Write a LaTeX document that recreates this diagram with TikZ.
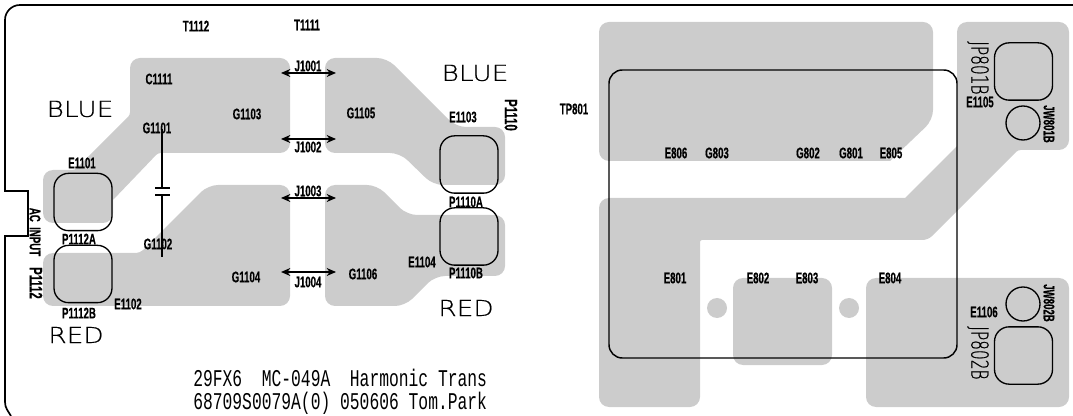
\documentclass[tikz,border=0pt]{standalone}
\usepackage{fontspec}
\usetikzlibrary{arrows.meta}
\setmainfont{Liberation Sans}
\newfontfamily\reffont[FakeStretch=0.63,FakeBold=0.3]{Liberation Sans}
\newfontfamily\markfont[FakeStretch=1.2,FakeBold=0.6]{DejaVu Sans ExtraLight}
\newfontfamily\jpfont[FakeStretch=0.66,FakeBold=0.6]{DejaVu Sans ExtraLight}
\newfontfamily\notefont[FakeStretch=0.68]{Liberation Mono}

\begin{document}
\begin{tikzpicture}[x=0.75pt,y=-0.75pt,>=stealth]
	
	\tikzset{
		pour/.style={fill=black!20,draw=none,rounded corners=7.5pt},
		outline/.style={line width=1.25pt},
		padbox/.style={draw,line width=1pt,rounded corners=11pt,inner sep=0pt,minimum width=43.5pt,minimum height=43pt},
		jwring/.style={draw,circle,line width=1pt,inner sep=0pt,minimum size=25.5pt},
		hole/.style={circle,fill=black!20,inner sep=0pt,minimum size=15pt},
		tpbox/.style={draw,line width=1.1pt,rounded corners=10pt,inner sep=0pt,minimum width=261pt,minimum height=216pt},
		jumper/.style={{Stealth[length=7pt,width=6pt]}-{Stealth[length=7pt,width=6pt]},line width=1pt},
		capwire/.style={line width=1pt},
		ref/.style={font=\reffont\bfseries\fontsize{11.5}{13}\selectfont,inner sep=0pt},
		netname/.style={font=\markfont\fontsize{16.5}{18}\selectfont,inner sep=0pt},
		jplabel/.style={font=\jpfont\fontsize{17.5}{19}\selectfont,inner sep=0pt,rotate=-90},
		note/.style={font=\notefont\fontsize{18}{20}\selectfont,inner sep=0pt},
	}
	
	% Macro: draw one ref label
	% Arguments: x, y, text (also used as node name)
	\newcommand{\RefAt}[3]{\node[ref] (#3) at (#1,#2) {#3};}
	
	\useasboundingbox (0,0) rectangle (1073,416);
	
	%========================================
	% Copper pours
	%========================================
	% Left blue
	\fill[pour] (130,58) -- (290,58) -- (290,153) [rounded corners=2pt] -- (158,153) [sharp corners] -- (113,200)
		[rounded corners=7.5pt] -- (113,223) -- (43,223) -- (43,170) [rounded corners=2pt] -- (75,170) -- (130,115)
		[rounded corners=7.5pt] -- cycle;
	% Left red
	\fill[pour] (43,253) [rounded corners=3pt] -- (140,253) [rounded corners=7.5pt] -- (208,185) -- (290,185) -- (290,306) -- (43,306) -- cycle;
	% Right blue
	\fill[pour] (325,58) -- (387,58) -- (456,127) -- (505,127) -- (505,185) -- (433,185)
		-- (400,153) -- (325,153) -- cycle;
	% Right red
	\fill[pour] (325,185) -- (377,185) -- (407,215) -- (505,215) -- (505,276) -- (435,276)
		-- (405,306) -- (325,306) -- cycle;
	% TP801 side
	\fill[pour] (599,22) -- (933,22) -- (933,120) [sharp corners] -- (890,161) [rounded corners=7.5pt] -- (599,161) -- cycle;
	\fill[pour] (599,198) [sharp corners] -- (905,198) -- (957,146) [rounded corners=7.5pt] -- (957,22) -- (1069,22) -- (1069,150)
		[rounded corners=2pt] -- (1018,150) [rounded corners=4pt] -- (928,240) [rounded corners=1.5pt] -- (700,240) [rounded corners=7.5pt] -- (700,407) -- (599,407) -- cycle;
	\fill[pour] (733,278) -- (832,278) -- (832,365) -- (733,365) -- cycle;
	\fill[pour] (866,278) -- (1069,278) -- (1069,407) -- (866,407) -- cycle;
	% Holes
	\node[hole] (H1) at (717,308) {};
	\node[hole] (H2) at (849,308) {};
	
	%========================================
	% Board edge
	%========================================
	\coordinate (edgeA) at (1073,5);
	\coordinate (edgeB) at (11,416);
	\draw[outline] (edgeA) -- (20,5) to[out=180,in=90] (5,20) -- (5,191) -- (28,191) -- (28,236)
		-- (5,236) -- (5,402) to[out=270,in=120] (edgeB);
	
	%========================================
	% Pads and frame
	%========================================
	\node[padbox] (P1112Apad) at (83,202) {};
	\node[padbox] (P1112Bpad) at (83,274) {};
	\node[padbox] (P1110Apad) at (469,164.5) {};
	\node[padbox] (P1110Bpad) at (469,236.5) {};
	\node[padbox] (JP801Bpad) at (1023.5,71.5) {};
	\node[padbox] (JP802Bpad) at (1023.5,355.5) {};
	\node[jwring] (JW801Bpad) at (1023,123) {};
	\node[jwring] (JW802Bpad) at (1023,304) {};
	\node[tpbox] (TPframe) at (783,214) {};
	
	%========================================
	% Capacitor
	%========================================
	\coordinate (capT) at (162,129);
	\coordinate (capU) at (162,188);
	\coordinate (capV) at (162,195);
	\coordinate (capB) at (162,257);
	\draw[capwire] (capT) -- (capU);
	\draw[capwire] (capV) -- (capB);
	\draw[capwire] (155,188) -- (170,188);
	\draw[capwire] (155,195) -- (170,195);
	
	%========================================
	% Jumpers
	%========================================
	\coordinate (JaL) at (281,73);  \coordinate (JaR) at (336,73);
	\coordinate (JbL) at (281,139); \coordinate (JbR) at (336,139);
	\coordinate (JcL) at (281,198); \coordinate (JcR) at (336,198);
	\coordinate (JdL) at (281,272); \coordinate (JdR) at (336,272);
	\draw[jumper] (JaL) -- (JaR);
	\draw[jumper] (JbL) -- (JbR);
	\draw[jumper] (JcL) -- (JcR);
	\draw[jumper] (JdL) -- (JdR);
	
	%========================================
	% Ref labels
	%========================================
	\RefAt{196}{26}{T1112}
	\RefAt{307}{25}{T1111}
	\RefAt{159}{79}{C1111}
	\RefAt{247}{114}{G1103}
	\RefAt{157}{128}{G1101}
	\RefAt{82}{163}{E1101}
	\RefAt{79}{239}{P1112A}
	\RefAt{158}{244}{G1102}
	\RefAt{246}{277}{G1104}
	\RefAt{128}{304}{E1102}
	\RefAt{79}{313}{P1112B}
	\RefAt{308}{66}{J1001}
	\RefAt{361}{113}{G1105}
	\RefAt{308}{147}{J1002}
	\RefAt{308}{191}{J1003}
	\RefAt{463}{117}{E1103}
	\RefAt{466}{202}{P1110A}
	\RefAt{422}{262}{E1104}
	\RefAt{466}{273}{P1110B}
	\RefAt{363}{274}{G1106}
	\RefAt{308}{282}{J1004}
	\RefAt{574}{109}{TP801}
	\RefAt{676}{153}{E806}
	\RefAt{717}{153}{G803}
	\RefAt{808}{153}{G802}
	\RefAt{851}{153}{G801}
	\RefAt{891}{153}{E805}
	\RefAt{980}{102}{E1105}
	\RefAt{675}{278}{E801}
	\RefAt{758}{278}{E802}
	\RefAt{807}{278}{E803}
	\RefAt{890}{278}{E804}
	\RefAt{984}{312}{E1106}
	
	% Rotated ref labels
	\node[ref,rotate=-90] (ACinput) at (35,232) {AC\hspace{2pt} INPUT};
	\node[ref,rotate=-90,font=\reffont\bfseries\fontsize{13.5}{15}\selectfont] (P1112) at (36,283) {P1112};
	\node[ref,rotate=-90,font=\reffont\bfseries\fontsize{13.5}{15}\selectfont] (P1110) at (511,115) {P1110};
	\node[ref,rotate=-90] (JW801B) at (1049,124) {JW801B};
	\node[ref,rotate=-90] (JW802B) at (1049,303) {JW802B};
	
	% Net names
	\node[netname] (blueL) at (80,109) {BLUE};
	\node[netname] (redL) at (76,335) {RED};
	\node[netname] (blueR) at (475,73) {BLUE};
	\node[netname] (redR) at (466,308) {RED};
	\node[jplabel] (JP801B) at (978,68) {JP801B};
	\node[jplabel] (JP802B) at (978,353) {JP802B};
	
	% Board title
	\node[note,anchor=west] (titleA) at (193,378) {29FX6\ \ MC-049A\ \ Harmonic Trans};
	\node[note,anchor=west] (titleB) at (193,403) {68709S0079A(0) 050606 Tom.Park};
	
\end{tikzpicture}
\end{document}
